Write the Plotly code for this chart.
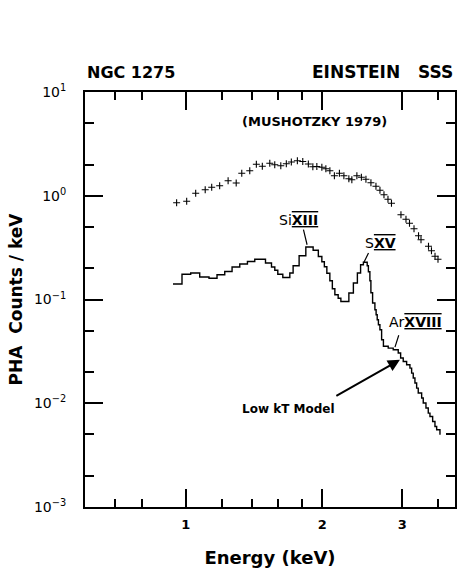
import numpy as np
import plotly.graph_objects as go

# ---------------- data ----------------
# Mushotzky (1979) data points (+)
data_energy = [0.955, 1.005, 1.052, 1.104, 1.141, 1.188, 1.240, 1.292, 1.329, 1.384,
               1.431, 1.475, 1.532, 1.571, 1.620, 1.666, 1.709, 1.762, 1.811, 1.863,
               1.906, 1.945, 1.995, 2.036, 2.078, 2.126, 2.181, 2.231, 2.288, 2.323,
               2.383, 2.438, 2.495, 2.559, 2.625, 2.679, 2.734, 2.790, 2.840, 2.980,
               3.057, 3.112, 3.184, 3.258, 3.299, 3.427, 3.479, 3.542, 3.596]
data_counts = [0.856, 0.885, 1.057, 1.143, 1.208, 1.248, 1.395, 1.326, 1.648, 1.742,
               2.012, 1.925, 2.057, 1.990, 1.946, 2.034, 2.113, 2.175, 2.141, 2.021,
               1.904, 1.916, 1.883, 1.821, 1.742, 1.559, 1.648, 1.559, 1.458, 1.427,
               1.559, 1.508, 1.442, 1.335, 1.235, 1.130, 1.022, 0.925, 0.847, 0.656,
               0.594, 0.543, 0.481, 0.412, 0.377, 0.326, 0.295, 0.261, 0.244]

# Low kT model histogram (bin left edge energy, level)
model_energy = [0.9376, 0.9814, 1.0257, 1.0737, 1.1255, 1.1722, 1.2191, 1.2652, 1.3156, 1.3678,
                1.4195, 1.4989, 1.5453, 1.5714, 1.5955, 1.6366, 1.6958, 1.7245, 1.7778, 1.8393,
                1.9088, 1.9598, 1.9950, 2.0205, 2.0463, 2.0777, 2.1042, 2.1312, 2.1672, 2.1971,
                2.2881, 2.3410, 2.3890, 2.4282, 2.4630, 2.5110, 2.5263, 2.5456, 2.5586, 2.5808,
                2.6111, 2.6271, 2.6418, 2.6580, 2.6783, 2.7016, 2.7264, 2.7936, 2.8654, 2.9391,
                2.9751, 3.0146, 3.0671, 3.1189, 3.1459, 3.1716, 3.1991, 3.2269, 3.2532, 3.3099,
                3.3369, 3.3830, 3.4228, 3.4524, 3.4999, 3.5411, 3.5718, 3.6322]
model_counts = [0.1409, 0.1751, 0.1798, 0.1646, 0.1603, 0.1732, 0.1864, 0.2055, 0.2196, 0.2326,
                0.2443, 0.2245, 0.2055, 0.1914, 0.1751, 0.1632, 0.1798, 0.2115, 0.2640, 0.3202,
                0.2983, 0.2600, 0.2311, 0.2069, 0.1790, 0.1516, 0.1269, 0.1111, 0.1028, 0.0958,
                0.1154, 0.1441, 0.1798, 0.2162, 0.2286, 0.2115, 0.1851, 0.1516, 0.1161, 0.0924,
                0.0796, 0.0713, 0.0638, 0.0571, 0.0511, 0.0409, 0.0354, 0.0340, 0.0328, 0.0305,
                0.0273, 0.0253, 0.0235, 0.0218, 0.0195, 0.0175, 0.0157, 0.0140, 0.01254, 0.01122,
                0.01004, 0.00899, 0.00804, 0.00746, 0.00668, 0.00597, 0.00555, 0.00497]

# axis ticks
x_major = [1, 2, 3]
x_major_text = ["1", "2", "3"]
x_minor = [0.7, 0.8, 1.2, 1.4, 1.6, 1.8, 3.6]
y_major = [1e-3, 1e-2, 1e-1, 1e0, 1e1]
y_major_text = ["10<sup>\u22123</sup>", "10<sup>\u22122</sup>", "10<sup>\u22121</sup>",
                "10<sup>0</sup>", "10<sup>1</sup>"]
y_minor = [2e-3, 5e-3, 2e-2, 5e-2, 2e-1, 5e-1, 2, 5]
x_range = [0.6, 3.92]
y_range = [1e-3, 1e1]

# line labels: (text, label E, label counts, line tail E, tail counts, line tip E, tip counts)
ion_labels = [
    ("Si<b><span style='text-decoration:underline overline'>XIII</span></b>", 1.770, 0.587, 1.814, 0.488, 1.851, 0.337),
    ("S<b><span style='text-decoration:underline overline'>XV</span></b>", 2.685, 0.350, 2.537, 0.290, 2.470, 0.228),
    ("Ar<b><span style='text-decoration:underline overline'>XVIII</span></b>", 3.216, 0.0610, 2.954, 0.0468, 2.891, 0.0348),
]
model_label = ("Low kT Model", 1.687, 0.00885, 2.131, 0.01155, 2.965, 0.02625)
ref_label = ("(MUSHOTZKY 1979)", 1.920, 5.17)

FONT = "DejaVu Sans"
lg = np.log10

fig = go.Figure()
fig.add_trace(go.Scatter(
    x=model_energy, y=model_counts, mode="lines", line_shape="hv",
    line=dict(color="black", width=1.4), showlegend=False))
fig.add_trace(go.Scatter(
    x=data_energy, y=data_counts, mode="markers",
    marker=dict(symbol="cross-thin", size=5, line=dict(color="black", width=1.1)),
    showlegend=False))

annotations = []
for text, lx, ly, tx, ty, px, py in ion_labels:
    annotations.append(dict(x=lg(lx), y=lg(ly), xref="x", yref="y", text=text,
                            showarrow=False, font=dict(family=FONT, size=14, color="black")))
    annotations.append(dict(x=lg(px), y=lg(py), ax=lg(tx), ay=lg(ty), xref="x", yref="y",
                            axref="x", ayref="y", text="", showarrow=True, arrowhead=0,
                            arrowwidth=1.2, arrowcolor="black", standoff=0, startstandoff=0))
t, lx, ly, tx, ty, px, py = model_label
annotations.append(dict(x=lg(lx), y=lg(ly), xref="x", yref="y", text="<b>" + t + "</b>",
                        showarrow=False, font=dict(family=FONT, size=12, color="black")))
annotations.append(dict(x=lg(px), y=lg(py), ax=lg(tx), ay=lg(ty), xref="x", yref="y",
                        axref="x", ayref="y", text="", showarrow=True, arrowhead=2,
                        arrowsize=1.2, arrowwidth=2, arrowcolor="black", standoff=0))
t, lx, ly = ref_label
annotations.append(dict(x=lg(lx), y=lg(ly), xref="x", yref="y", text="<b>" + t + "</b>",
                        showarrow=False, font=dict(family=FONT, size=13, color="black")))
annotations.append(dict(x=0, y=1.048, xref="paper", yref="paper", xanchor="left",
                        yanchor="middle", text="<b>NGC 1275</b>", showarrow=False,
                        font=dict(family=FONT, size=16, color="black")))
annotations.append(dict(x=1, y=1.048, xref="paper", yref="paper", xanchor="right",
                        yanchor="middle", text="<b>EINSTEIN\u00a0\u00a0\u00a0SSS</b>",
                        showarrow=False, font=dict(family=FONT, size=17, color="black")))

axis_common = dict(showgrid=False, zeroline=False, showline=True, linecolor="black",
                   linewidth=2, mirror="ticks", ticks="inside", tickcolor="black",
                   tickwidth=1.5, ticklen=18)

fig.update_layout(
    width=457, height=573, margin=dict(l=85, r=2, t=92, b=66),
    paper_bgcolor="white", plot_bgcolor="white",
    font=dict(family=FONT, color="black"),
    xaxis=dict(type="log", range=[lg(x_range[0]), lg(x_range[1])],
               tickmode="array", tickvals=x_major, ticktext=["<b>%s</b>" % s for s in x_major_text],
               tickfont=dict(family=FONT, size=13, color="black"), ticklabelstandoff=4,
               minor=dict(tickmode="array", tickvals=x_minor, ticks="inside", ticklen=8,
                          tickwidth=1.5, tickcolor="black", showgrid=False),
               title=dict(text="<b>Energy (keV)</b>", font=dict(family=FONT, size=18, color="black"),
                          standoff=21),
               **axis_common),
    yaxis=dict(type="log", range=[lg(y_range[0]), lg(y_range[1])],
               tickmode="array", tickvals=y_major, ticktext=y_major_text,
               tickfont=dict(family=FONT, size=14, color="black"), ticklabelstandoff=14,
               minor=dict(tickmode="array", tickvals=y_minor, ticks="inside", ticklen=9,
                          tickwidth=1.5, tickcolor="black", showgrid=False),
               title=dict(text="<b>PHA\u00a0\u00a0Counts / keV</b>",
                          font=dict(family=FONT, size=17, color="black"), standoff=7),
               **axis_common),
    annotations=annotations,
)
fig.update_xaxes(automargin=False)
fig.update_yaxes(automargin=False)

# remove the default page margin so the figure fills the 457x573 window exactly
fig.write_html("out.html",
               config={"displayModeBar": False},
               post_script="document.body.style.margin='0';"
                           "document.body.style.overflow='hidden';")
